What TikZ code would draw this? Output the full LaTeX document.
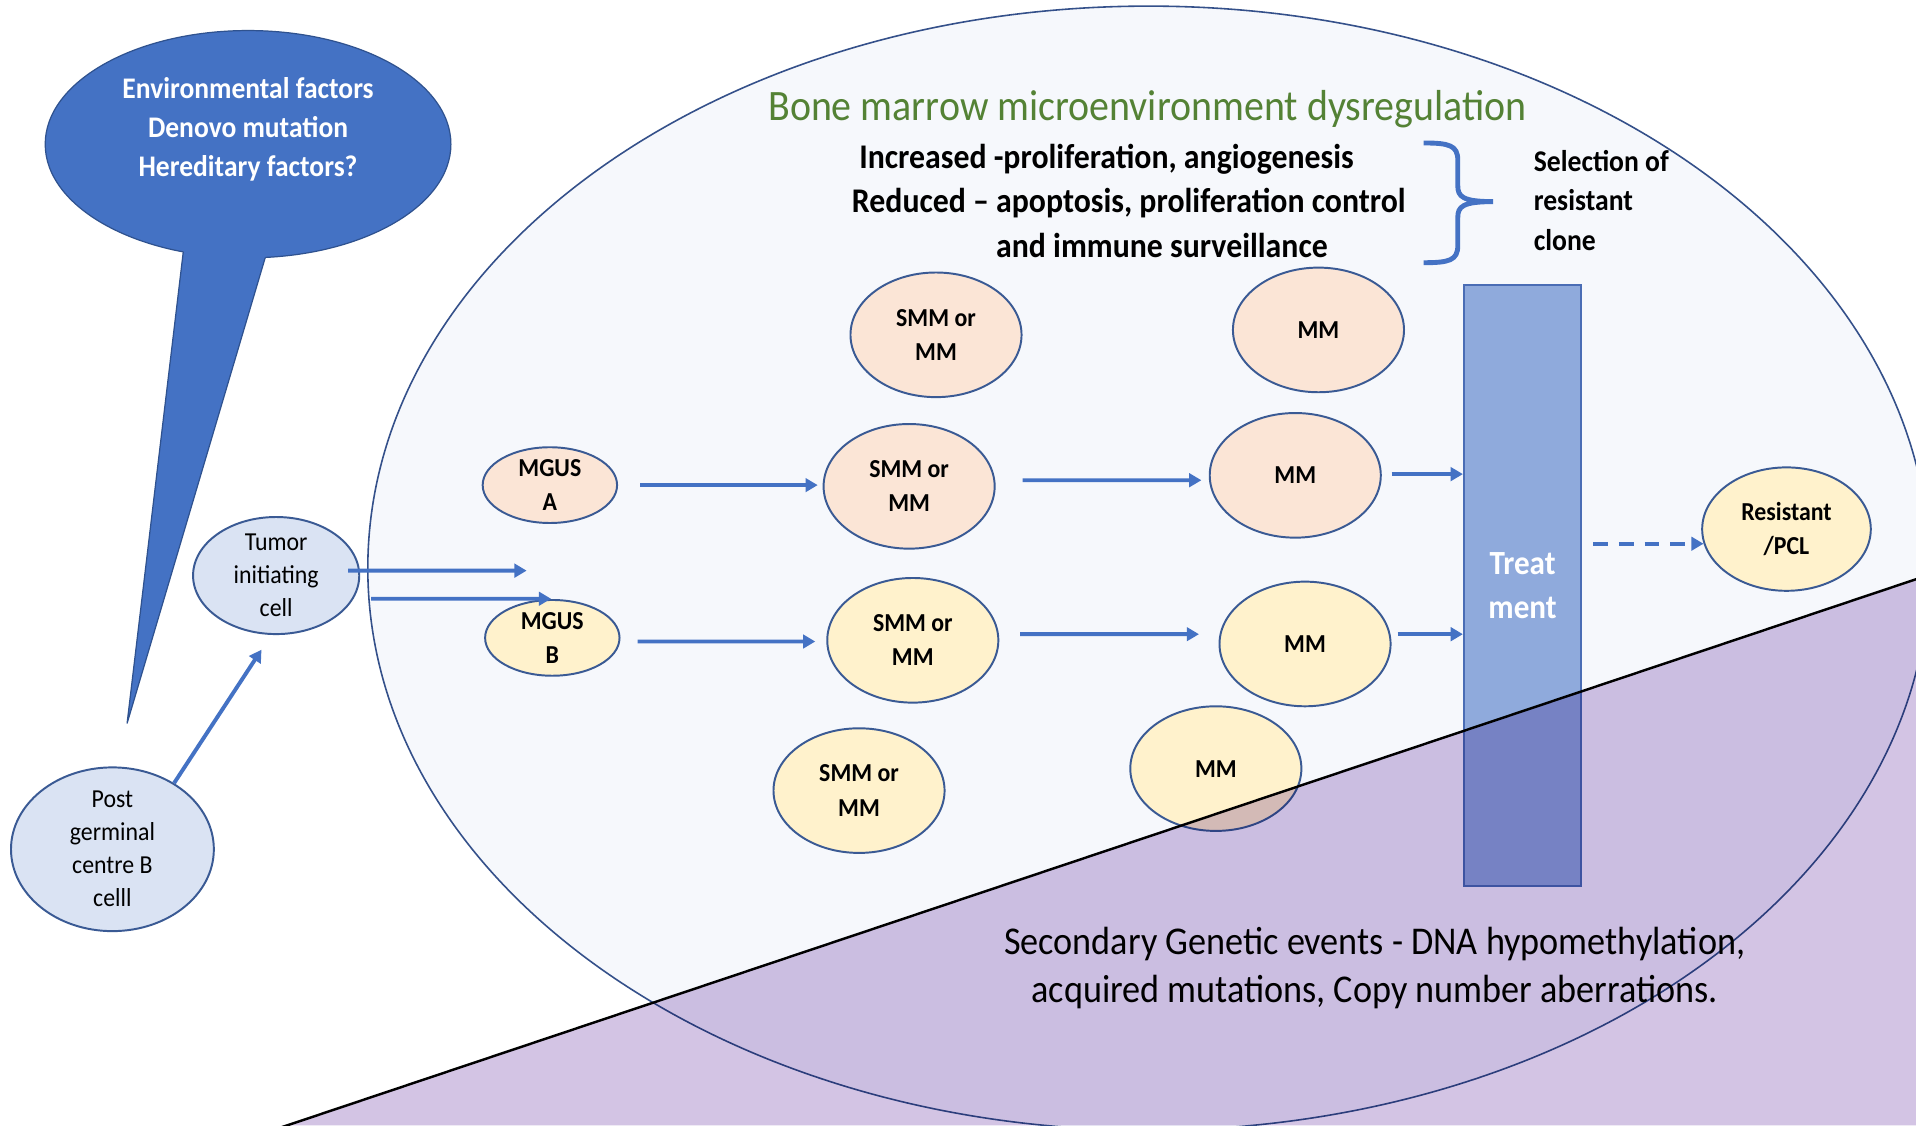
\documentclass[tikz,border=0pt]{standalone}
\usepackage{fontspec}
\setmainfont[FakeStretch=0.92]{Carlito}
\usetikzlibrary{shapes.geometric,arrows.meta}
\definecolor{bmfill}{HTML}{F6F8FC}
\definecolor{bmline}{HTML}{34508A}
\definecolor{nodeline}{HTML}{3A5A94}
\definecolor{pinkfill}{HTML}{FBE5D6}
\definecolor{yellowfill}{HTML}{FFF2CC}
\definecolor{bluefill}{HTML}{DAE3F3}
\definecolor{arrowblue}{HTML}{4472C4}
\definecolor{bubblefill}{HTML}{4472C4}
\definecolor{bubbleline}{HTML}{2F528F}
\definecolor{treatfill}{HTML}{8FAADC}
\definecolor{treatline}{HTML}{4A6DB5}
\definecolor{titlegreen}{HTML}{548235}
\definecolor{purplefill}{HTML}{D3C4E4}
\newcommand\fsz[2]{\fontsize{#1bp}{#2bp}\selectfont}
\begin{document}
\begin{tikzpicture}[x=1bp,y=-1bp,
  cell/.style={ellipse, draw=nodeline, line width=1.6bp, inner sep=0pt, align=center, font=\fsz{21.2}{28}\bfseries},
  pinkcell/.style={cell, fill=pinkfill},
  yellowcell/.style={cell, fill=yellowfill},
  bluecell/.style={cell, fill=bluefill, font=\fsz{21.2}{27}},
  bigcell/.style={minimum width=140bp, minimum height=102bp},
  arr/.style={draw=arrowblue, line width=3.2bp, -{Triangle[length=10bp,width=11bp]}},
  txt/.style={inner sep=0pt}
]
\useasboundingbox (0,0) rectangle (1568,921);
\clip (0,0) rectangle (1568,921);
\fill[white] (0,0) rectangle (1568,921);

% big bone marrow ellipse
\draw[fill=bmfill, draw=bmline, line width=1.3bp] (940,465) ellipse [x radius=639, y radius=460];

% speech bubble
\node[ellipse, fill=bubblefill, draw=bubbleline, line width=1bp, minimum width=332bp, minimum height=186bp, inner sep=0pt] (bub) at (203,118) {};
\fill[bubblefill] (151.9,190) -- (104,592) -- (223.2,190) -- cycle;
\draw[bubbleline, line width=1bp] (150,206) -- (104,592) -- (217,211);
\node[txt, text=white, align=center, font=\fsz{24.5}{32}\bfseries] (bubtxt) at (203,106) {Environmental factors\\Denovo mutation\\Hereditary factors?};

% left cells
\node[bluecell, minimum width=166bp, minimum height=104bp] (post) at (92,695) {Post\\germinal\\centre B\\celll};
\node[bluecell, minimum width=136bp, minimum height=86bp] (tum) at (226,471) {Tumor\\initiating\\cell};

% MGUS
\node[pinkcell, minimum width=110bp, minimum height=62bp] (mgA) at (450,397) {MGUS\\A};
\node[yellowcell, minimum width=110bp, minimum height=62bp] (mgB) at (452,522) {MGUS\\B};

% SMM / MM
\node[pinkcell, bigcell] (smmT) at (766,274) {SMM or\\MM};
\node[pinkcell, bigcell] (smmA) at (744,398) {SMM or\\MM};
\node[yellowcell, bigcell] (smmB) at (747,524) {SMM or\\MM};
\node[yellowcell, bigcell] (smmL) at (703,647) {SMM or\\MM};
\node[pinkcell, bigcell] (mmT) at (1079,270) {MM};
\node[pinkcell, bigcell] (mmA) at (1060,389) {MM};
\node[yellowcell, bigcell] (mmB) at (1068,527) {MM};
\node[yellowcell, bigcell] (mmL) at (995,629) {MM};

% treatment
\node[draw=treatline, fill=treatfill, line width=1.6bp, minimum width=96bp, minimum height=492bp, inner sep=0pt,
      text=white, font=\fsz{27.7}{36}\bfseries, align=center] (treat) at (1246,479) {Treat\\ment};

% resistant
\node[yellowcell, minimum width=138bp, minimum height=101bp] (res) at (1462,433) {Resistant\\/PCL};

% arrows
\draw[arr] (post.47) -- ([xshift=-12bp,yshift=-12bp]tum.south);
\coordinate (t1) at (431,467);
\coordinate (t2) at (451,490);
\draw[arr] ([xshift=-10bp,yshift=4bp]tum.east) -- (t1);
\draw[arr] ([xshift=9bp,yshift=-19bp]tum.east) -- (t2);
\draw[arr] ([xshift=18bp]mgA.east) -- ([xshift=-4bp,yshift=1bp]smmA.west);
\draw[arr] ([xshift=22bp,yshift=5bp]smmA.east) -- ([xshift=-6bp,yshift=-4bp]mmA.west);
\coordinate (mmAout) at ([xshift=8bp,yshift=1bp]mmA.east);
\draw[arr] (mmAout) -- (mmAout -| treat.west);
\draw[arr] ([xshift=14bp,yshift=-3bp]mgB.east) -- ([xshift=-9bp,yshift=-1bp]smmB.west);
\draw[arr] ([xshift=17bp,yshift=5bp]smmB.east) -- ([xshift=-16bp,yshift=8bp]mmB.west);
\coordinate (mmBout) at ([xshift=5bp,yshift=8bp]mmB.east);
\draw[arr] (mmBout) -- (mmBout -| treat.west);
\coordinate (tE) at ([xshift=9bp]treat.east);
\draw[arr, dash pattern=on 12bp off 9bp] (tE |- res.190) -- (res.190);

% texts
\node[txt, text=titlegreen, font=\fsz{35.5}{38}] (bmt) at (939,89) {Bone marrow microenvironment dysregulation};
\node[txt, anchor=west, font=\fsz{28.3}{32}\bfseries] (inc) at (703,130) {Increased -proliferation, angiogenesis};
\node[txt, anchor=west, font=\fsz{28.3}{32}\bfseries] (red) at (697,166) {Reduced – apoptosis, proliferation control};
\node[txt, anchor=west, font=\fsz{28.3}{32}\bfseries] (imm) at (815,201) {and immune surveillance};
\draw[arrowblue, line width=4bp]
  (1165,117) .. controls (1186,117) and (1193,119) .. (1193,131) -- (1193,152)
  .. controls (1193,161) and (1197,165) .. (1222,165)
  .. controls (1197,165) and (1193,169) .. (1193,178) -- (1193,201)
  .. controls (1193,213) and (1186,215) .. (1165,215);
\node[txt, anchor=west, align=left, font=\fsz{24.6}{32.5}\bfseries] (sel) at (1255,164) {Selection of\\resistant\\clone};

% purple region (multiplied over the drawing)
\begin{scope}[blend mode=multiply]
\fill[purplefill] (235,921) -- (1568,474) -- (1568,921) -- cycle;
\end{scope}
\draw[black, line width=2bp] (220,926) -- (1580,470);
\node[txt, align=center, font=\fsz{32.2}{39}] (sec) at (1125,792) {Secondary Genetic events - DNA hypomethylation,\\acquired mutations, Copy number aberrations.};
\end{tikzpicture}
\end{document}
